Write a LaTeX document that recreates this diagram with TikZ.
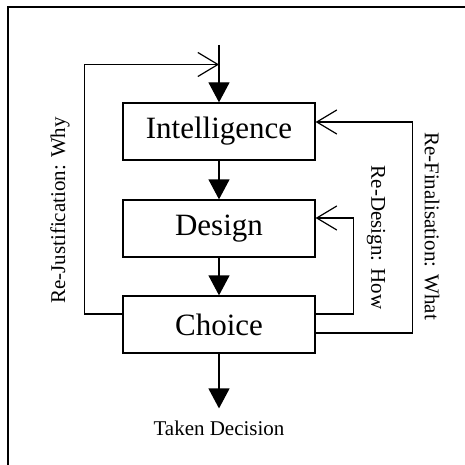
\documentclass[tikz,border=0pt]{standalone}
\usepackage{fontspec}
\setmainfont{Liberation Serif}
\usetikzlibrary{arrows.meta}

\tikzset{
    phasebox/.style={draw, line width=1.3pt, minimum width=192pt, minimum height=57pt,
        inner sep=0pt, font=\fontsize{31}{33}\selectfont},
    flow/.style={line width=1.3pt, -{Triangle[length=20pt,width=21pt]}},
    loopback/.style={line width=1.3pt, -{Straight Barb[length=20pt,width=24pt,line width=1.2pt]}},
    looplabel/.style={font=\fontsize{21}{23}\selectfont, inner sep=0pt}
}

\begin{document}
\begin{tikzpicture}[x=1pt, y=-1pt]
        \useasboundingbox (0,0) rectangle (465,465);
        \clip (0,0) rectangle (465,465);

        % Outer frame (cut off on the right and bottom)
        \draw[line width=1.3pt] (8,500) -- (8,7) -- (500,7);

        % --- Phases ---
        \node[phasebox] (intel)  at (219,131.5) {Intelligence};
        \node[phasebox] (design) at (219,228.5) {Design};
        \node[phasebox] (choice) at (219,324.5) {Choice};
        \node[looplabel, inner sep=12pt] (taken) at (219,428) {Taken Decision};

        \coordinate (start) at (219,45);
        \coordinate (merge) at (219,64.5);

        % Forward flow
        \draw[flow] (start) -- (intel);
        \draw[flow] (intel) -- (design);
        \draw[flow] (design) -- (choice);
        \draw[flow] (choice) -- (taken);

        % --- Feedback loops ---
        \draw[loopback] ([yshift=10.5pt]choice.west) -- ++(-38,0) |- (merge);
        \draw[loopback] ([yshift=10.5pt]choice.east) -- ++(38,0) |- ([yshift=10.5pt]design.east);
        \draw[loopback] ([yshift=-8.5pt]choice.east) -- ++(97,0) |- ([yshift=9.5pt]intel.east);

        % Labels
        \node[looplabel, rotate=90]  (why)  at (60,210.5) {Re-Justification: Why};
        \node[looplabel, rotate=-90] (how)  at (376,237.5) {Re-Design: How};
        \node[looplabel, rotate=-90] (what) at (432,226) {Re-Finalisation: What};
\end{tikzpicture}
\end{document}
